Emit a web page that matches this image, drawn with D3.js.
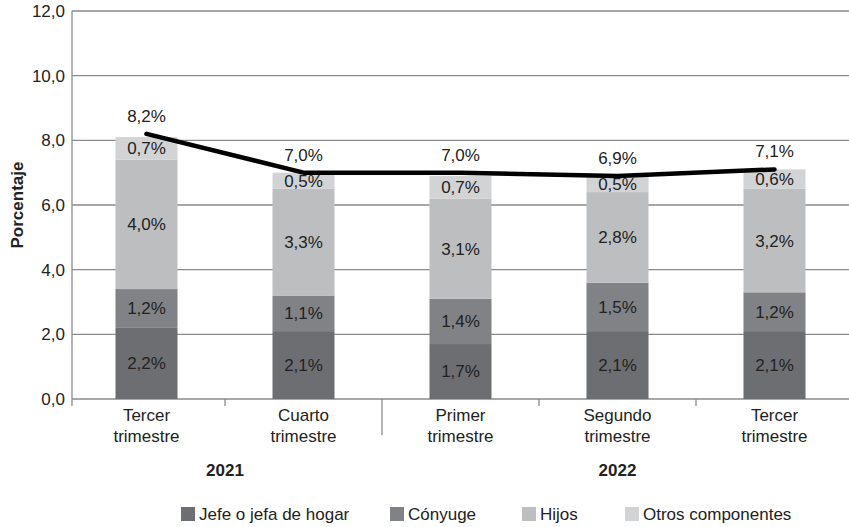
<!DOCTYPE html>
<html><head><meta charset="utf-8">
<script src="https://cdn.jsdelivr.net/npm/d3@7"></script>
<style>body{margin:0;background:#fff;}svg{display:block;font-family:"Liberation Sans",Arial,sans-serif;}</style>
</head><body><svg id="c" width="849" height="527"></svg>
<script>
const quarters = [["Tercer","trimestre"],["Cuarto","trimestre"],["Primer","trimestre"],["Segundo","trimestre"],["Tercer","trimestre"]];
const categories = ["T3-2021","T4-2021","T1-2022","T2-2022","T3-2022"];
const jefe = [2.2, 2.1, 1.7, 2.1, 2.1];
const conyuge = [1.2, 1.1, 1.4, 1.5, 1.2];
const hijos = [4.0, 3.3, 3.1, 2.8, 3.2];
const otros = [0.7, 0.5, 0.7, 0.5, 0.6];
const total = [8.2, 7.0, 7.0, 6.9, 7.1];
const yTicks = [0, 2, 4, 6, 8, 10, 12];
const years = [{label:"2021", from:0, to:1},{label:"2022", from:2, to:4}];
const seriesNames = ["Jefe o jefa de hogar","Cónyuge","Hijos","Otros componentes"];
const colors = ["#6d6e71","#808285","#bcbec0","#d1d3d4"];

const FS = 17;
const svg = d3.select("#c");
const fmt = v => d3.format(".1f")(v).replace(".", ",");
const x = d3.scaleBand().domain(categories).range([68, 853]).paddingInner(0.605).paddingOuter(0.3025);
const y = d3.scaleLinear().domain([0, 12]).range([399, 11]);

// grid
svg.append("g").selectAll("line").data(yTicks).join("line")
  .attr("x1", 72).attr("x2", 849).attr("y1", d => y(d)).attr("y2", d => y(d))
  .attr("stroke", "#8a8a8a").attr("stroke-width", 1.3);
// y axis line
svg.append("line").attr("x1",72).attr("x2",72).attr("y1",y(12)).attr("y2",406).attr("stroke","#8a8a8a").attr("stroke-width",1.3);
svg.append("g").selectAll("text").data(yTicks).join("text")
  .attr("x", 65).attr("y", d => y(d)).attr("dy","0.35em").attr("text-anchor","end")
  .attr("font-size", FS).attr("fill","#222").text(fmt);

svg.append("text").attr("transform","translate(23,205) rotate(-90)").attr("text-anchor","middle")
  .attr("font-size",17).attr("font-weight","bold").attr("fill","#222").text("Porcentaje");

// stacked bars
const rows = categories.map((c,i)=>({cat:c, s0:jefe[i], s1:conyuge[i], s2:hijos[i], s3:otros[i]}));
const stack = d3.stack().keys(["s0","s1","s2","s3"])(rows);
const g = svg.append("g");
stack.forEach((layer, li) => {
  g.append("g").selectAll("rect").data(layer).join("rect")
    .attr("x", d => x(d.data.cat)).attr("width", x.bandwidth())
    .attr("y", d => y(d[1])).attr("height", d => y(d[0]) - y(d[1]))
    .attr("fill", colors[li]);
  g.append("g").selectAll("text").data(layer).join("text")
    .attr("x", d => x(d.data.cat) + x.bandwidth()/2)
    .attr("y", d => (y(d[0]) + y(d[1]))/2).attr("dy","0.35em")
    .attr("text-anchor","middle").attr("font-size",FS).attr("fill","#222")
    .text(d => fmt(d[1]-d[0]) + "%");
});

// x axis ticks
const bounds = categories.slice(1).map(c => x(c) - x.step()*x.paddingInner()/2);
svg.append("g").selectAll("line").data(bounds).join("line")
  .attr("x1", d=>d).attr("x2", d=>d).attr("y1", 399).attr("y2", (d,i)=> i===1 ? 435 : 406)
  .attr("stroke","#8a8a8a").attr("stroke-width",1.3);

// x labels
const xl = svg.append("g").selectAll("text").data(categories).join("text")
  .attr("text-anchor","middle").attr("font-size",FS).attr("fill","#222");
xl.append("tspan").attr("x", d => x(d)+x.bandwidth()/2).attr("y", 421).text((d,i)=>quarters[i][0]);
xl.append("tspan").attr("x", d => x(d)+x.bandwidth()/2).attr("y", 442).text((d,i)=>quarters[i][1]);

svg.append("g").selectAll("text").data(years).join("text")
  .attr("x", d => (x(categories[d.from]) + x(categories[d.to]) + x.bandwidth())/2)
  .attr("y", 476).attr("text-anchor","middle").attr("font-size",FS).attr("font-weight","bold").attr("fill","#222")
  .text(d => d.label);

// total line
const line = d3.line().x((d,i)=>x(categories[i])+x.bandwidth()/2).y(d=>y(d));
svg.append("path").datum(total).attr("d", line).attr("fill","none").attr("stroke","#000").attr("stroke-width",4.5)
  .attr("stroke-linecap","round").attr("stroke-linejoin","round");
svg.append("g").selectAll("text").data(total).join("text")
  .attr("x", (d,i)=>x(categories[i])+x.bandwidth()/2).attr("y", d => y(d) - 12)
  .attr("text-anchor","middle").attr("font-size",FS).attr("fill","#222").text(d => fmt(d)+"%");

// legend
const legX = [181, 390, 522, 625];
const lg = svg.append("g").selectAll("g").data(seriesNames).join("g")
  .attr("transform",(d,i)=>`translate(${legX[i]},507)`);
lg.append("rect").attr("width",14).attr("height",14).attr("fill",(d,i)=>colors[i]);
lg.append("text").attr("x",18).attr("y",7).attr("dy","0.35em").attr("font-size",FS).attr("fill","#222").text(d=>d);
</script></body></html>
